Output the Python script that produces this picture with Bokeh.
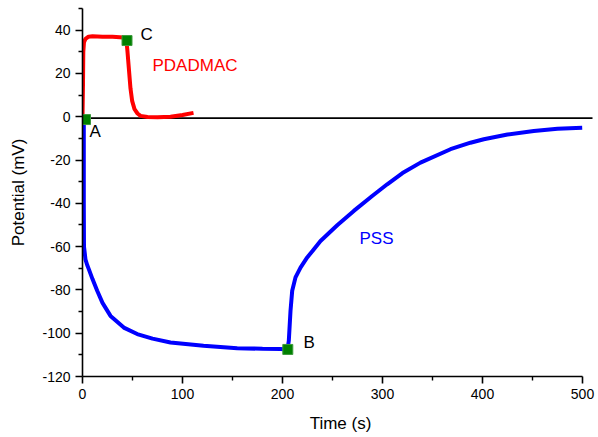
from bokeh.plotting import figure
from bokeh.models import ColumnDataSource, FixedTicker
from bokeh.core.properties import value
from bokeh.embed import file_html
from bokeh.resources import INLINE

# PDADMAC (red) trace
pdadmac_t = [0, 0.5, 0.8, 1.5, 3, 6, 10, 20, 30, 41, 44, 45, 46.3, 48, 49.7, 52, 55, 58, 65, 75, 88, 100, 111]
pdadmac_v = [0, 15, 30, 34.5, 36, 37, 37.2, 37, 36.9, 36.6, 35, 30, 22.6, 13, 7.2, 3.5, 1.5, 0.4, -0.1, -0.2, 0, 0.8, 1.8]

# PSS (blue) trace
pss_t = [1.3, 1.3, 1.5, 3, 4.7, 6.3, 10, 14.7, 20, 28, 41.3, 54.7, 70, 88, 121, 154.7, 180, 198, 205,
         206.3, 208, 209.7, 213, 218, 224.7, 230, 238, 255, 271.3, 290, 304.7, 320, 338, 368, 388, 401.3,
         425, 451.3, 475, 499.7]
pss_v = [-1, -40, -60, -66, -68.5, -70.4, -75, -80.4, -86, -92, -97.4, -100.4, -102.5, -104.3, -105.8,
         -106.9, -107.2, -107.3, -107.5, -103.5, -89.7, -80.4, -74.2, -69.7, -65, -62, -57.4, -50, -43.5,
         -36.5, -31.2, -26, -21.2, -15, -12, -10.4, -8.2, -6.6, -5.6, -5.1]

# zero reference line
base_t = [0, 510]
base_v = [-0.6, -0.6]

# marked points A, B, C
mark_t = [3, 205.3, 44.5]
mark_v = [-1.3, -107.5, 35.2]

# annotation labels
label_text = ["A", "B", "C", "PDADMAC", "PSS"]
label_t = [7, 221, 58, 70, 277]
label_v = [-6.9, -104.2, 37.8, 23.6, -56.4]
label_color = ["black", "black", "black", "#ff0000", "#0000ff"]

x_ticks = [0, 100, 200, 300, 400, 500]
y_ticks = [-120, -100, -80, -60, -40, -20, 0, 20, 40]

FONT = "Liberation Sans"

p = figure(width=598, height=437, x_range=(0, 516), y_range=(-120, 50),
           output_backend="svg", toolbar_location=None,
           min_border_left=82, min_border_right=0, min_border_top=8, min_border_bottom=61)
p.outline_line_color = None
p.xgrid.visible = False
p.ygrid.visible = False
p.background_fill_color = "white"

p.line(base_t, base_v, line_color="black", line_width=1.8)
p.line(pdadmac_t, pdadmac_v, line_color="#ff0000", line_width=4)
p.line(pss_t, pss_v, line_color="#0000ff", line_width=4)
p.scatter(mark_t, mark_v, marker="square", size=10, fill_color="#008000", line_color="#3c9a3c", line_width=1)

src = ColumnDataSource(dict(x=label_t, y=label_v, text=label_text, color=label_color))
p.text(x="x", y="y", text="text", source=src, text_color="color", text_font=value(FONT),
       text_font_size="17px", text_align="left", text_baseline="middle")

for ax in (p.xaxis[0], p.yaxis[0]):
    ax.axis_line_width = 1.6
    ax.major_tick_line_width = 1.6
    ax.minor_tick_line_width = 1.4
    ax.major_tick_out = 7
    ax.major_tick_in = 0
    ax.minor_tick_out = 4
    ax.minor_tick_in = 0
    ax.major_label_text_font = FONT
    ax.major_label_text_font_size = "14px"
    ax.major_label_text_color = "black"
    ax.axis_label_text_font = FONT
    ax.axis_label_text_font_size = "17px"
    ax.axis_label_text_font_style = "normal"
    ax.axis_label_text_color = "black"
    ax.major_label_standoff = 5

p.xaxis[0].ticker = FixedTicker(ticks=x_ticks, minor_ticks=[50, 150, 250, 350, 450])
p.yaxis[0].ticker = FixedTicker(ticks=y_ticks, minor_ticks=[-110, -90, -70, -50, -30, -10, 10, 30, 50])
p.yaxis[0].major_label_overrides = {t: str(t) for t in y_ticks}
p.xaxis[0].bounds = (0, 500)
p.yaxis[0].bounds = (-120, 50)
p.xaxis[0].axis_label = "Time (s)"
p.yaxis[0].axis_label = "Potential (mV)"
p.xaxis[0].axis_label_standoff = 12
p.yaxis[0].axis_label_standoff = 11

open("out.html", "w").write(file_html(p, INLINE))
